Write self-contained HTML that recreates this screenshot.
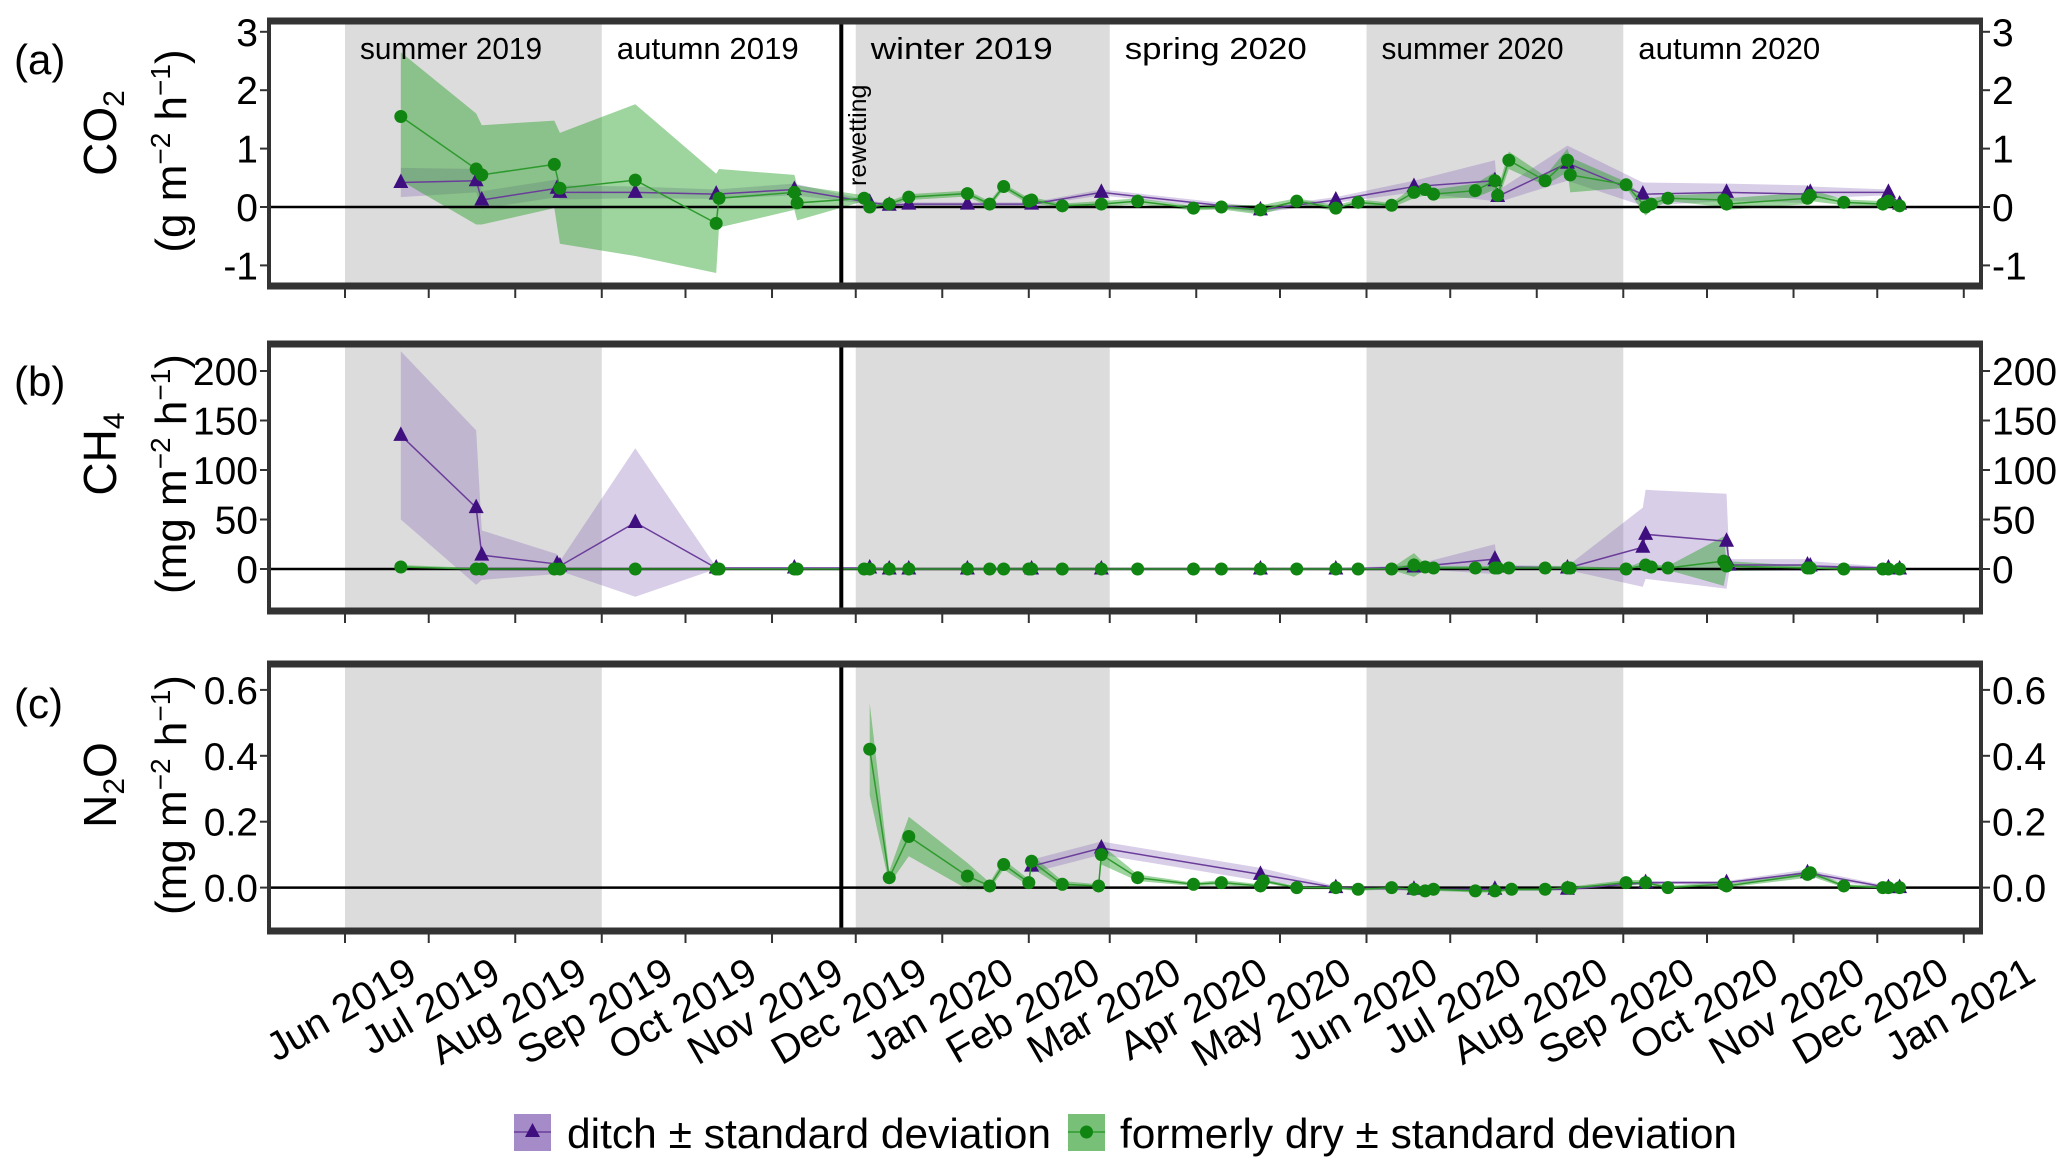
<!DOCTYPE html>
<html><head><meta charset="utf-8"><style>
html,body{margin:0;padding:0;background:#fff;}
svg{display:block;font-family:"Liberation Sans",Arial,sans-serif;}
</style></head><body>
<svg id="chart" width="2067" height="1172" viewBox="0 0 2067 1172" xmlns="http://www.w3.org/2000/svg"></svg>
<script>
// ---- data (days since 2019-06-01) ----
const monthLabels = ["Jun 2019","Jul 2019","Aug 2019","Sep 2019","Oct 2019","Nov 2019","Dec 2019","Jan 2020","Feb 2020","Mar 2020","Apr 2020","May 2020","Jun 2020","Jul 2020","Aug 2020","Sep 2020","Oct 2020","Nov 2020","Dec 2020","Jan 2021"];
const monthDays = [0,30,61,92,122,153,183,214,245,274,305,335,366,396,427,458,488,519,549,580];
const seasonNames = ["summer 2019","autumn 2019","winter 2019","spring 2020","summer 2020","autumn 2020"];
const seasonStart = [0,92,183,274,366,458];
const seasonEnd = [92,183,274,366,458,549];
const rewettingDay = 178;

const aGreenDays = [20,47,49,75,77,104,133,134,161,162,186,188,195,202,223,231,236,245,246,257,271,284,304,314,328,341,355,363,375,383,387,390,405,412,413,417,430,438,439,459,466,468,474,494,495,524,525,537,551,553,557];
const aGreenMean = [1.55,0.65,0.55,0.73,0.32,0.46,-0.28,0.15,0.25,0.07,0.15,0.0,0.05,0.17,0.23,0.05,0.35,0.1,0.12,0.02,0.05,0.1,-0.02,0.0,-0.05,0.1,-0.02,0.08,0.03,0.25,0.3,0.22,0.28,0.45,0.2,0.8,0.45,0.8,0.55,0.38,0.0,0.05,0.15,0.12,0.05,0.15,0.2,0.08,0.05,0.1,0.02];
const aGreenSd = [1.1,0.95,0.85,0.75,0.95,1.3,0.85,0.5,0.3,0.3,0.05,0.05,0.05,0.05,0.05,0.05,0.05,0.05,0.05,0.04,0.05,0.05,0.04,0.04,0.08,0.05,0.05,0.05,0.04,0.1,0.1,0.08,0.12,0.15,0.1,0.15,0.08,0.2,0.3,0.05,0.15,0.1,0.05,0.12,0.1,0.1,0.1,0.05,0.05,0.05,0.03];
const aDitchDays = [20,47,49,76,77,104,133,161,188,195,202,223,246,271,328,355,383,412,413,438,465,495,524,525,553,557];
const aDitchMean = [0.42,0.45,0.12,0.32,0.25,0.25,0.22,0.3,0.08,0.03,0.05,0.05,0.05,0.25,-0.05,0.12,0.35,0.45,0.18,0.75,0.22,0.25,0.22,0.25,0.25,0.05];
const aDitchSd = [0.25,0.2,0.15,0.15,0.12,0.1,0.08,0.1,0.03,0.03,0.03,0.03,0.03,0.05,0.05,0.05,0.1,0.35,0.1,0.3,0.2,0.15,0.15,0.1,0.05,0.03];

const bGreenDays = aGreenDays;
const bGreenMean = [2,0,0,0,0,0,0,0,0,0,0,0,0,0,0,0,0,0,0,0,0,0,0,0,0,0,0,0,0,4,2,1,1,1,1,1,1,1,1,0,4,2,1,8,3,1,1,0,0,0,0];
const bGreenSd = [2,1,1,1,1,1,1,1,1,1,1,1,1,1,1,1,1,1,1,1,1,1,1,1,1,1,1,1,1,12,3,2,2,2,2,2,2,2,2,1,5,3,2,25,5,2,2,1,1,1,1];
const bDitchDays = [20,47,49,76,77,104,133,161,188,195,202,223,246,271,328,355,383,412,413,438,465,466,495,496,524,525,553,557];
const bDitchMean = [135,62,14,5,3,47,1,1,1,0,0,0,0,0,0,0,2,10,2,1,22,35,28,4,4,3,1,0];
const bDitchSd = [85,78,25,10,5,75,1,1,1,0.5,0.5,0.5,0.5,0.5,0.5,0.5,2,15,2,2,40,45,48,6,6,5,1,1];

const cGreenDays = [188,195,202,223,231,236,245,246,257,270,271,284,304,314,328,329,341,355,363,375,383,387,390,405,412,418,430,438,439,459,466,474,494,495,524,525,537,551,553,557];
const cGreenMean = [0.42,0.03,0.155,0.035,0.005,0.07,0.015,0.08,0.01,0.005,0.1,0.03,0.01,0.015,0.005,0.02,0,0,-0.005,0,-0.005,-0.01,-0.005,-0.01,-0.01,-0.005,-0.005,0,-0.002,0.015,0.015,0,0.01,0.005,0.04,0.045,0.005,0,0,0];
const cGreenSd = [0.14,0.02,0.06,0.04,0.01,0.015,0.01,0.02,0.01,0.005,0.03,0.01,0.005,0.008,0.005,0.005,0.005,0.005,0.005,0.005,0.005,0.005,0.005,0.005,0.005,0.005,0.005,0.005,0.005,0.008,0.008,0.005,0.008,0.005,0.01,0.01,0.005,0.005,0.005,0.005];
const cDitchDays = [246,271,328,355,383,412,438,466,495,524,553,557];
const cDitchMean = [0.065,0.12,0.04,0.0,-0.005,-0.005,-0.005,0.015,0.015,0.045,0.0,0.0];
const cDitchSd = [0.02,0.02,0.02,0.005,0.005,0.005,0.005,0.005,0.005,0.01,0.005,0.005];

const aTicks = [-1,0,1,2,3];
const bTicks = [0,50,100,150,200];
const cTicks = [0.0,0.2,0.4,0.6];
const cTickLabels = ["0.0","0.2","0.4","0.6"];

// ---- layout ----
const NS = "http://www.w3.org/2000/svg";
const svg = document.getElementById('chart');
const X0 = 269, X1 = 1981;
const xs = d => 345 + d * 2.791;
function mk(tag, attrs, parent) {
  const e = document.createElementNS(NS, tag);
  for (const k in attrs) e.setAttribute(k, attrs[k]);
  (parent || svg).appendChild(e);
  return e;
}
const panels = [
  {key:'a', top:21, bottom:286, zeroY:207, ppu:58.4, ticks:aTicks, labels:aTicks.map(String),
   g:[aGreenDays,aGreenMean,aGreenSd], p:[aDitchDays,aDitchMean,aDitchSd]},
  {key:'b', top:344, bottom:611, zeroY:569, ppu:0.99, ticks:bTicks, labels:bTicks.map(String),
   g:[bGreenDays,bGreenMean,bGreenSd], p:[bDitchDays,bDitchMean,bDitchSd]},
  {key:'c', top:664, bottom:931, zeroY:887.6, ppu:329.5, ticks:cTicks, labels:cTickLabels,
   g:[cGreenDays,cGreenMean,cGreenSd], p:[cDitchDays,cDitchMean,cDitchSd]}
];

const defs = mk('defs', {});
panels.forEach(P => {
  const cp = mk('clipPath', {id:'clip-'+P.key}, defs);
  mk('rect', {x:X0, y:P.top, width:X1-X0, height:P.bottom-P.top}, cp);
});

panels.forEach((P, pi) => {
  const ys = v => P.zeroY - v * P.ppu;
  const g = mk('g', {'clip-path':'url(#clip-'+P.key+')'});
  
  
  seasonStart.forEach((s, i) => {
    if (i % 2 === 0) {
      const r = mk('rect', {x:xs(s), y:P.top, width:xs(seasonEnd[i])-xs(s), height:P.bottom-P.top, fill:'#dcdcdc'}, g);
      
      
    }
  });
  function band(series, fill, name) {
    const [d, m, s] = series;
    let pts = d.map((dd, i) => xs(dd) + ',' + ys(m[i] + s[i]));
    for (let i = d.length - 1; i >= 0; i--) pts.push(xs(d[i]) + ',' + ys(m[i] - s[i]));
    const poly = mk('polygon', {points:pts.join(' '), fill:fill}, g);
    
    
  }
  band(P.p, 'rgba(140,105,185,0.33)', 'ditch-sd-band');
  band(P.g, 'rgba(40,160,40,0.45)', 'formerly-dry-sd-band');
  const zl = mk('line', {x1:X0, x2:X1, y1:P.zeroY, y2:P.zeroY, stroke:'#000', 'stroke-width':2.5}, g);
  
  
  {
    const [d, m] = P.p;
    const pl = mk('polyline', {points:d.map((dd,i)=>xs(dd)+','+ys(m[i])).join(' '), fill:'none', stroke:'#6a3d9a', 'stroke-width':1.5}, g);
    
    
    d.forEach((dd, i) => {
      const x = xs(dd), y = ys(m[i]);
      const t = mk('polygon', {points:`${x},${y-9} ${x-7.5},${y+5.5} ${x+7.5},${y+5.5}`, fill:'#3f0f7f'}, g);
      
      
    });
  }
  {
    const [d, m] = P.g;
    const pl = mk('polyline', {points:d.map((dd,i)=>xs(dd)+','+ys(m[i])).join(' '), fill:'none', stroke:'#2e9a2e', 'stroke-width':1.5}, g);
    
    
    d.forEach((dd, i) => {
      const c = mk('circle', {cx:xs(dd), cy:ys(m[i]), r:6.5, fill:'#118511'}, g);
      
      
    });
  }
  const rw = mk('line', {x1:xs(rewettingDay)-0.5, x2:xs(rewettingDay)-0.5, y1:P.top, y2:P.bottom, stroke:'#000', 'stroke-width':4});
  
  
  const fr = mk('rect', {x:X0, y:P.top, width:X1-X0, height:P.bottom-P.top, fill:'none', stroke:'#333', 'stroke-width':4});
  
  
  mk('line', {x1:X0-2, x2:X1+2, y1:P.top, y2:P.top, stroke:'#333', 'stroke-width':7});
  mk('line', {x1:X0-2, x2:X1+2, y1:P.bottom, y2:P.bottom, stroke:'#333', 'stroke-width':7});
  P.ticks.forEach((t, i) => {
    const y = ys(t);
    mk('line', {x1:X0-9, x2:X0, y1:y, y2:y, stroke:'#333', 'stroke-width':2});
    mk('line', {x1:X1, x2:X1+9, y1:y, y2:y, stroke:'#333', 'stroke-width':2});
    const lt = mk('text', {x:X0-11, y:y+14, 'text-anchor':'end', 'font-size':39, fill:'#000'});
    lt.textContent = P.labels[i];
    
    
    const rt = mk('text', {x:X1+11, y:y+14, 'text-anchor':'start', 'font-size':39, fill:'#000'});
    rt.textContent = P.labels[i];
    
    
  });
  monthDays.forEach(d => {
    mk('line', {x1:xs(d), x2:xs(d), y1:P.bottom+3, y2:P.bottom+12, stroke:'#333', 'stroke-width':2});
  });
});

seasonNames.forEach((s, i) => {
  const t = mk('text', {x:xs(seasonStart[i]) + 15, y:59, 'font-size':31, fill:'#000', textLength:182, lengthAdjust:'spacingAndGlyphs'});
  t.textContent = s;
  
  
});
const rwt = mk('text', {x:0, y:0, 'font-size':25, fill:'#000', transform:`translate(866,186) rotate(-90)`});
rwt.textContent = 'rewetting';



monthLabels.forEach((lab, i) => {
  const x = xs(monthDays[i]) + 74, y = 980;
  const t = mk('text', {x:0, y:0, 'text-anchor':'end', 'font-size':40, fill:'#000', transform:`translate(${x},${y}) rotate(-30)`});
  t.textContent = lab;
  
  
});

svg.insertAdjacentHTML('beforeend', `
  <text x="14" y="74" font-size="42">(a)</text>
  <text x="14" y="396" font-size="42">(b)</text>
  <text x="14" y="718" font-size="42">(c)</text>
  <text transform="translate(116,133) rotate(-90)" text-anchor="middle" font-size="46">CO<tspan font-size="30" dy="8">2</tspan></text>
  <text transform="translate(186,151) rotate(-90)" text-anchor="middle" font-size="44">(g m<tspan font-size="28" dy="-16">−2</tspan><tspan dy="16"> h</tspan><tspan font-size="28" dy="-16">−1</tspan><tspan dy="16">)</tspan></text>
  <text transform="translate(116,454) rotate(-90)" text-anchor="middle" font-size="46">CH<tspan font-size="30" dy="8">4</tspan></text>
  <text transform="translate(186,474) rotate(-90)" text-anchor="middle" font-size="44">(mg m<tspan font-size="28" dy="-16">−2</tspan><tspan dy="16"> h</tspan><tspan font-size="28" dy="-16">−1</tspan><tspan dy="16">)</tspan></text>
  <text transform="translate(116,785) rotate(-90)" text-anchor="middle" font-size="46">N<tspan font-size="30" dy="8">2</tspan><tspan dy="-8">O</tspan></text>
  <text transform="translate(186,795) rotate(-90)" text-anchor="middle" font-size="44">(mg m<tspan font-size="28" dy="-16">−2</tspan><tspan dy="16"> h</tspan><tspan font-size="28" dy="-16">−1</tspan><tspan dy="16">)</tspan></text>
  <g>
    <g>
      <rect x="514" y="1114" width="37" height="37" fill="#a58bc8"/>
      <line x1="514" x2="551" y1="1132" y2="1132" stroke="#6a3d9a" stroke-width="1.5"/>
      <polygon points="532.5,1123 525,1137 540,1137" fill="#3f0f7f"/>
      <text x="567" y="1148" font-size="42" textLength="484" lengthAdjust="spacingAndGlyphs">ditch ± standard deviation</text>
    </g>
    <g>
      <rect x="1068" y="1114" width="37" height="37" fill="#78c078"/>
      <line x1="1068" x2="1105" y1="1132" y2="1132" stroke="#2e9a2e" stroke-width="1.5"/>
      <circle cx="1086.5" cy="1132" r="6.5" fill="#118511"/>
      <text x="1120" y="1148" font-size="42" textLength="617" lengthAdjust="spacingAndGlyphs">formerly dry ± standard deviation</text>
    </g>
  </g>`);
</script>
</body></html>
